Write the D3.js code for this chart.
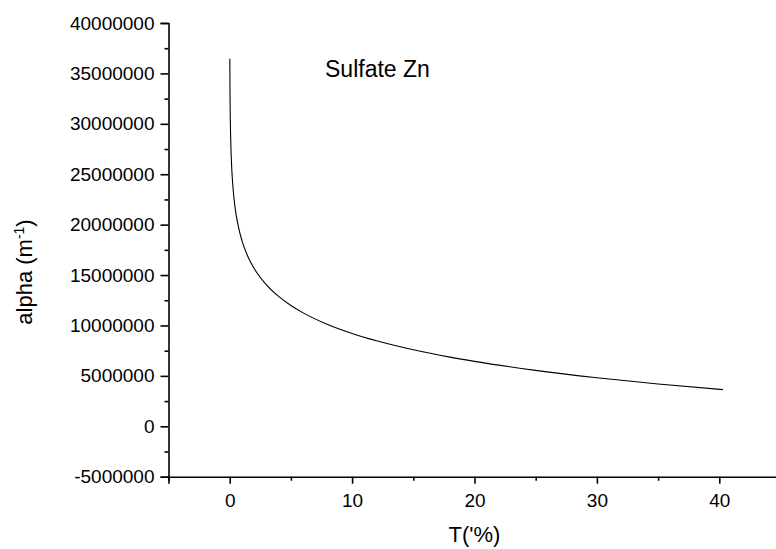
<!DOCTYPE html>
<html>
<head>
<meta charset="utf-8">
<script src="https://cdn.jsdelivr.net/npm/d3@7"></script>
<style>
  html, body { margin: 0; padding: 0; background: #fff; }
  svg { display: block; }
  text { font-family: "Liberation Sans", Arial, sans-serif; fill: #000; }
</style>
</head>
<body>
<div id="chart"></div>
<script>
// ---- data ----
const transmission = [0.011, 0.015, 0.02, 0.03, 0.05, 0.07, 0.1, 0.15, 0.2, 0.3, 0.4, 0.5, 0.7, 1.0, 1.5, 2, 3, 4, 5, 6, 8, 10, 12, 15, 18, 20, 25, 30, 35, 40.3];
const alphaValues = [36460000, 35220000, 34070000, 32450000, 30400000, 29060000, 27630000, 26010000, 24860000, 23240000, 22090000, 21190000, 19850000, 18420000, 16800000, 15650000, 14030000, 12880000, 11980000, 11250000, 10100000, 9210000, 8480000, 7590000, 6860000, 6440000, 5550000, 4820000, 4200000, 3640000];
const xTickValues = [0, 10, 20, 30, 40];
const xMinorTicks = [-5, 5, 15, 25, 35, 45];
const yTickValues = [-5000000, 0, 5000000, 10000000, 15000000, 20000000, 25000000, 30000000, 35000000, 40000000];
const yMinorTicks = [-2500000, 2500000, 7500000, 12500000, 17500000, 22500000, 27500000, 32500000, 37500000];
const xDomain = [-5, 45];
const yDomain = [-5000000, 40000000];
const titleText = "Sulfate Zn";
const xLabelText = "T('%)";

// ---- layout ----
const W = 776, H = 549;
const mLeft = 168.5, mRight = 780.5, mTop = 23, mBottom = 476.7;

const svg = d3.select("#chart").append("svg")
  .attr("width", W).attr("height", H);

const x = d3.scaleLinear().domain(xDomain).range([mLeft, mRight]);
const y = d3.scaleLinear().domain(yDomain).range([mBottom, mTop]);
const fmt = d => d3.format("d")(d).replace("\u2212", "-");

// curve
const pts = transmission.map((t, i) => [t, alphaValues[i]]);
svg.append("path")
  .datum(pts)
  .attr("fill", "none")
  .attr("stroke", "#000")
  .attr("stroke-width", 1.1)
  .attr("d", d3.line().x(d => x(d[0])).y(d => y(d[1])).curve(d3.curveMonotoneX));

// y axis
const yAxis = svg.append("g").attr("transform", `translate(${mLeft},0)`)
  .call(d3.axisLeft(y).tickValues(yTickValues).tickSize(8).tickPadding(6).tickFormat(fmt));
const yMinor = svg.append("g").attr("transform", `translate(${mLeft},0)`)
  .call(d3.axisLeft(y).tickValues(yMinorTicks).tickSize(4).tickFormat(""));

// x axis
const xAxis = svg.append("g").attr("transform", `translate(0,${mBottom})`)
  .call(d3.axisBottom(x).tickValues(xTickValues).tickSize(7).tickPadding(10).tickFormat(fmt));
const xMinor = svg.append("g").attr("transform", `translate(0,${mBottom})`)
  .call(d3.axisBottom(x).tickValues(xMinorTicks).tickSize(4).tickFormat(""));

[yAxis, yMinor, xAxis, xMinor].forEach(g => {
  g.selectAll(".domain").attr("stroke", "#000").attr("stroke-width", 1.6);
  g.selectAll(".tick line").attr("stroke", "#000").attr("stroke-width", 1.6);
  g.selectAll(".tick text").attr("font-size", 19).attr("font-family", "Liberation Sans, Arial, sans-serif").attr("fill", "#000");
});
yMinor.select(".domain").remove();
xMinor.select(".domain").remove();

// title
svg.append("text")
  .attr("x", 325).attr("y", 77.3)
  .attr("font-size", 23)
  .text(titleText);

// x label
svg.append("text")
  .attr("x", (mLeft + mRight) / 2).attr("y", 542)
  .attr("text-anchor", "middle")
  .attr("font-size", 22)
  .text(xLabelText);

// y label
const yl = svg.append("text")
  .attr("transform", `translate(32,272) rotate(-90)`)
  .attr("text-anchor", "middle")
  .attr("font-size", 22);
yl.append("tspan").text("alpha (m");
yl.append("tspan").attr("font-size", 14).attr("dy", -8).text("-1");
yl.append("tspan").attr("dy", 8).text(")");
</script>
</body>
</html>
